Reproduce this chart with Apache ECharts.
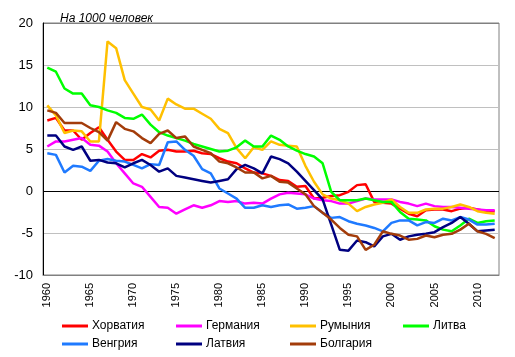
<!DOCTYPE html>
<html><head><meta charset="utf-8">
<script src="https://cdn.jsdelivr.net/npm/echarts@6/dist/echarts.min.js"></script>
<style>html,body{margin:0;padding:0;background:#fff}#c{width:515px;height:357px}</style>
</head><body><div id="c"></div>
<script>
var years = [];
for (var y = 1960; y <= 2012; y++) years.push(String(y));

var croatia = [8.4,8.7,7.2,7.2,6.1,6.9,7.6,6.1,4.7,3.7,3.7,4.4,4.0,4.8,4.9,4.7,4.7,4.8,4.5,4.4,3.9,3.5,3.3,2.7,2.2,2.1,1.8,1.3,1.2,0.5,0.6,-0.9,-0.8,-0.6,-0.5,-0.1,0.7,0.8,-1.3,-1.4,-1.5,-2.1,-2.7,-3.0,-2.3,-2.2,-2.2,-2.4,-2.1,-2.0,-2.2,-2.4,-2.4];
var germany = [5.3,5.9,5.9,6.1,6.3,5.5,5.4,4.7,3.3,2.1,0.9,0.5,-0.7,-1.9,-2.0,-2.7,-2.2,-1.7,-2.0,-1.7,-1.2,-1.3,-1.2,-1.5,-1.4,-1.5,-0.9,-0.4,-0.2,-0.3,-0.4,-0.9,-1.1,-1.2,-1.5,-1.5,-1.2,-0.9,-1.0,-1.0,-1.0,-1.3,-1.5,-1.8,-1.5,-1.8,-1.9,-1.9,-2.0,-2.1,-2.2,-2.3,-2.3];
var romania = [10.2,9.0,6.9,7.2,7.1,5.9,5.9,17.8,17.0,13.2,11.6,10.0,9.7,8.4,11.0,10.3,9.8,9.8,9.2,8.6,7.4,6.9,5.1,3.9,5.2,4.9,5.9,5.5,5.4,5.3,3.0,1.1,-0.4,-0.9,-1.1,-1.5,-2.4,-1.9,-1.6,-1.4,-1.0,-1.9,-2.6,-2.6,-2.2,-2.1,-2.1,-1.9,-1.6,-1.9,-2.4,-2.6,-2.7];
var lithuania = [14.7,14.2,12.2,11.6,11.6,10.2,10.0,9.6,9.3,8.7,8.6,9.1,7.9,7.0,6.6,6.3,6.0,5.6,5.3,5.0,4.7,4.8,5.2,6.0,5.3,5.3,6.6,6.1,5.3,4.8,4.4,4.1,3.3,-0.1,-1.1,-1.1,-1.1,-0.9,-1.1,-1.3,-1.3,-2.5,-3.3,-3.4,-3.5,-4.2,-4.6,-4.8,-4.1,-3.3,-3.8,-3.6,-3.5];
var hungary = [4.5,4.3,2.2,3.0,2.9,2.4,3.6,3.8,3.6,3.5,3.1,2.7,3.2,3.1,5.8,5.9,4.9,4.2,2.6,2.1,0.3,-0.3,-0.9,-2.0,-2.0,-1.7,-1.9,-1.7,-1.6,-2.1,-2.0,-1.8,-2.6,-3.2,-3.1,-3.6,-3.9,-4.1,-4.4,-4.8,-3.8,-3.5,-3.5,-4.1,-3.7,-3.8,-3.3,-3.5,-3.1,-3.4,-4.0,-4.0,-3.9];
var latvia = [6.6,6.6,5.3,4.9,5.3,3.6,3.7,3.4,3.3,2.8,3.3,3.7,3.1,2.3,2.7,1.8,1.6,1.4,1.2,1.0,1.2,1.4,2.6,3.1,2.7,2.1,4.1,3.8,3.3,2.3,1.2,0.1,-1.0,-4.0,-7.0,-7.1,-5.9,-6.1,-6.6,-5.4,-5.1,-5.8,-5.4,-5.2,-5.1,-4.9,-4.3,-3.8,-3.1,-3.9,-4.8,-4.7,-4.6];
var bulgaria = [9.6,9.3,8.1,8.1,8.1,7.5,7.0,6.0,8.2,7.4,7.1,6.3,5.7,6.8,7.2,6.3,6.5,5.3,4.9,4.5,3.5,3.3,2.8,2.2,2.2,1.5,1.8,1.1,1.0,0.3,-0.4,-1.8,-2.6,-3.4,-4.4,-5.2,-5.4,-7.0,-6.4,-4.8,-5.1,-5.3,-5.8,-5.7,-5.3,-5.5,-5.2,-5.1,-4.6,-3.9,-4.8,-5.1,-5.6];

var names = ['Хорватия','Германия','Румыния','Литва','Венгрия','Латвия','Болгария'];
var colors = ['#ff0000','#ff00ff','#ffc000','#00ff00','#1f7aff','#000080','#a33c0a'];
var dataSets = [croatia, germany, romania, lithuania, hungary, latvia, bulgaria];
var yTicks = [-10,-5,0,5,10,15,20];
var title = 'На 1000 человек';

var font = 'Liberation Sans, Arial, sans-serif';
var series = names.map(function(n, i){
  return {name:n, type:'line', data:dataSets[i], symbol:'none', smooth:false,
    lineStyle:{color:colors[i], width:2.5}, itemStyle:{color:colors[i]}, z: 2+i, animation:false};
});
var colX = [57,171,285,398], rowY = [315,333];
var legends = names.map(function(n,i){
  return {data:[n], left:colX[i%4], top:rowY[Math.floor(i/4)], icon:'rect', itemWidth:26, itemHeight:3,
    itemGap:4, textStyle:{fontFamily:font, fontSize:12, color:'#000', padding:[0,0,0,-1]}, selectedMode:false};
});
var chart = echarts.init(document.getElementById('c'), null, {renderer:'canvas'});
chart.setOption({
  animation:false,
  backgroundColor:'#fff',
  title:{text:title, left:55, top:8, textStyle:{fontFamily:font, fontSize:12, fontStyle:'italic', fontWeight:'normal', color:'#000'}},
  legend: legends,
  grid:{left:43, top:23, right:16, bottom:82, show:true, borderColor:'#808080', borderWidth:1, containLabel:false},
  xAxis:{type:'category', data:years, boundaryGap:true,
    axisLine:{show:true, onZero:false, lineStyle:{color:'#808080'}},
    axisTick:{show:false},
    axisLabel:{interval:4, rotate:90, fontFamily:font, fontSize:11, color:'#000', margin:8},
    splitLine:{show:false}},
  yAxis:{type:'value', min:-10, max:20, interval:5,
    axisLine:{show:true, lineStyle:{color:'#000', width:1}},
    axisTick:{show:false},
    axisLabel:{fontFamily:font, fontSize:13, color:'#000', margin:10},
    splitLine:{show:true, lineStyle:{color:['#808080','#c0c0c0','#000000','#c0c0c0','#c0c0c0','#c0c0c0','#808080'], width:1}}},
  series: series
});
</script></body></html>
